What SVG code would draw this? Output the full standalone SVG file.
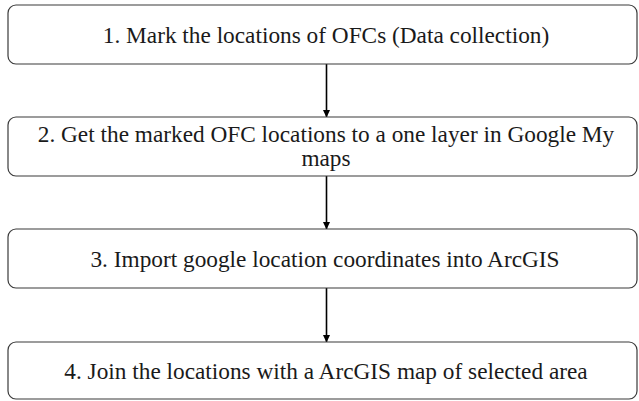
<svg xmlns="http://www.w3.org/2000/svg" width="639" height="401" viewBox="0 0 639 401">
<defs>
<marker id="arr" markerWidth="8" markerHeight="8" refX="7" refY="4" orient="auto" markerUnits="userSpaceOnUse">
<path d="M0,0.5 L7.5,4 L0,7.5 Z" fill="#000"/>
</marker>
<style>
.box{fill:#fff;stroke:#3a3a3a;stroke-width:1.2}
.t{font-family:"Liberation Serif","Times New Roman",serif;font-size:23.3px;fill:#1a1a1a;text-anchor:middle}
.c{stroke:#000;stroke-width:1.6;fill:none}
</style>
</defs>
<rect width="639" height="401" fill="#fff"/>
<g id="connectors">
<line class="c" x1="326.5" y1="64" x2="326.5" y2="117" marker-end="url(#arr)"/>
<line class="c" x1="326.5" y1="176" x2="326.5" y2="229" marker-end="url(#arr)"/>
<line class="c" x1="326.5" y1="288" x2="326.5" y2="342" marker-end="url(#arr)"/>
</g>
<g id="node1">
<rect class="box" x="8" y="5" width="629" height="59" rx="8"/>
<text class="t" x="326" y="43">1. Mark the locations of OFCs (Data collection)</text>
</g>
<g id="node2">
<rect class="box" x="8" y="117" width="629" height="59" rx="8"/>
<text class="t" x="326" y="142">2. Get the marked OFC locations to a one layer  in Google My</text>
<text class="t" x="326" y="166">maps</text>
</g>
<g id="node3">
<rect class="box" x="8" y="229" width="629" height="59" rx="8"/>
<text class="t" x="325" y="267">3. Import google location coordinates into ArcGIS</text>
</g>
<g id="node4">
<rect class="box" x="8" y="342" width="629" height="57" rx="8"/>
<text class="t" x="326" y="379">4. Join the locations with a ArcGIS map of selected area</text>
</g>
</svg>
